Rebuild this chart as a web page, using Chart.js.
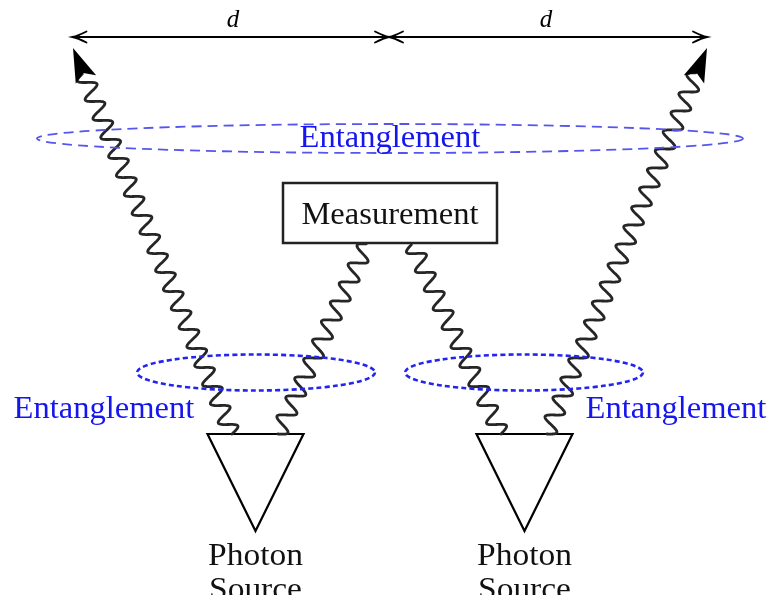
<!DOCTYPE html>
<html><head><meta charset="utf-8">
<script src="https://cdn.jsdelivr.net/npm/chart.js@4/dist/chart.umd.min.js"></script>
<style>html,body{margin:0;padding:0;background:#fff;}canvas{display:block}</style>
</head><body>
<canvas id="c" width="773" height="604"></canvas>
<script>
// ---- diagram data (diagram units: x to the right, y downward) ----
const distanceArrowX = [72.5, 389, 707];
const distanceArrowY = [37];
const distanceLabels = ['d', 'd'];
const distanceLabelX = [233, 546];
const sourceX = [255.5, 524.5];
const sourceTopY = [434];
const sourceApexY = [531];
const sourceHalfWidth = [48];
const sourceLabelLines = ['Photon', 'Source'];
const measureBoxX = [283, 497];
const measureBoxY = [183, 243];
const measureLabel = 'Measurement';
const photonStartX = [232, 278, 501, 547];
const photonStartY = [434, 434, 434, 434];
const photonEndX = [73, 367, 412, 707];
const photonEndY = [48, 244, 244, 48];
const photonHasArrow = [true, false, false, true];
const ellipseCX = [390, 256, 524];
const ellipseCY = [138.5, 372.5, 372.5];
const ellipseRX = [353, 119, 119];
const ellipseRY = [14.5, 18, 18];
const ellipseKind = ['wide', 'tight', 'tight'];
const entLabels = ['Entanglement', 'Entanglement', 'Entanglement'];
const entLabelX = [390, 104, 676];
const entLabelY = [147, 418, 418];

// ---- datasets built from the arrays ----
const black = '#000';
const datasets = [];
sourceX.forEach(sx => {
  datasets.push({
    data: [
      {x: sx - sourceHalfWidth[0], y: sourceTopY[0]},
      {x: sx + sourceHalfWidth[0], y: sourceTopY[0]},
      {x: sx, y: sourceApexY[0]},
      {x: sx - sourceHalfWidth[0], y: sourceTopY[0]},
      {x: sx + sourceHalfWidth[0], y: sourceTopY[0]}
    ],
    borderColor: black, borderWidth: 2.2, borderJoinStyle: 'miter'
  });
});
datasets.push({
  data: [
    {x: measureBoxX[0], y: measureBoxY[0]}, {x: measureBoxX[1], y: measureBoxY[0]},
    {x: measureBoxX[1], y: measureBoxY[1]}, {x: measureBoxX[0], y: measureBoxY[1]},
    {x: measureBoxX[0], y: measureBoxY[0]}, {x: measureBoxX[1], y: measureBoxY[0]}
  ],
  borderColor: '#222', borderWidth: 2.5, borderJoinStyle: 'miter'
});
for (let i = 0; i < distanceArrowX.length - 1; i++) {
  datasets.push({
    data: [{x: distanceArrowX[i], y: distanceArrowY[0]}, {x: distanceArrowX[i + 1], y: distanceArrowY[0]}],
    borderColor: black, borderWidth: 2
  });
}
datasets.forEach(d => { d.showLine = true; d.pointRadius = 0; d.tension = 0; d.fill = false; });

function txt(ctx, s, x, y, font, color, sx) {
  ctx.save();
  ctx.font = font; ctx.fillStyle = color;
  ctx.textAlign = 'center'; ctx.textBaseline = 'alphabetic';
  ctx.translate(x, y); ctx.scale(sx, 1);
  ctx.fillText(s, 0, 0);
  ctx.restore();
}

const decor = {
  id: 'decor',
  afterDatasetsDraw(chart) {
    const ctx = chart.ctx;
    const X = v => chart.scales.x.getPixelForValue(v);
    const Y = v => chart.scales.y.getPixelForValue(v);
    const serif = '"Liberation Serif", "Times New Roman", serif';

    // distance arrowheads
    ctx.save();
    ctx.strokeStyle = black; ctx.lineWidth = 1.8; ctx.lineCap = 'round';
    for (let i = 0; i < distanceArrowX.length - 1; i++) {
      const a = X(distanceArrowX[i]), b = X(distanceArrowX[i + 1]), y = Y(distanceArrowY[0]);
      [[a, -1], [b, 1]].forEach(([tx, dir]) => {
        const len = 14, hw = 5.5;
        ctx.beginPath();
        ctx.moveTo(tx - dir * len, y - hw);
        ctx.quadraticCurveTo(tx - dir * 5, y - 1, tx, y);
        ctx.quadraticCurveTo(tx - dir * 5, y + 1, tx - dir * len, y + hw);
        ctx.stroke();
        ctx.beginPath();
        ctx.moveTo(tx, y);
        ctx.lineTo(tx - dir * 7, y - 2.2);
        ctx.lineTo(tx - dir * 7, y + 2.2);
        ctx.closePath(); ctx.fillStyle = black; ctx.fill();
      });
    }
    ctx.restore();
    distanceLabels.forEach((s, i) => txt(ctx, s, X(distanceLabelX[i]), Y(27), 'italic 25px ' + serif, black, 1));

    // photon wave lines
    ctx.save();
    ctx.strokeStyle = '#262626'; ctx.lineWidth = 2.8; ctx.lineJoin = 'round'; ctx.lineCap = 'round';
    photonStartX.forEach((_, i) => {
      const x0 = X(photonStartX[i]), y0 = Y(photonStartY[i]);
      const xt = X(photonEndX[i]), yt = Y(photonEndY[i]);
      const dx = xt - x0, dy = yt - y0, Lt = Math.hypot(dx, dy);
      const ux = dx / Lt, uy = dy / Lt, nx = -uy, ny = ux;
      const arrowLen = 34, notch = 27, hw = 11;
      const L = photonHasArrow[i] ? Lt - notch : Lt;
      const lambda = L / Math.round(L / 21);
      const amp = 8.5;
      ctx.beginPath();
      for (let t = 0; t <= L + 0.01; t += 0.5) {
        const s = amp * Math.sin(2 * Math.PI * t / lambda);
        const px = x0 + ux * t + nx * s, py = y0 + uy * t + ny * s;
        if (t === 0) ctx.moveTo(px, py); else ctx.lineTo(px, py);
      }
      ctx.stroke();
      if (photonHasArrow[i]) {
        ctx.beginPath();
        ctx.moveTo(xt, yt);
        ctx.lineTo(xt - ux * arrowLen + nx * hw, yt - uy * arrowLen + ny * hw);
        ctx.lineTo(xt - ux * notch, yt - uy * notch);
        ctx.lineTo(xt - ux * arrowLen - nx * hw, yt - uy * arrowLen - ny * hw);
        ctx.closePath();
        ctx.fillStyle = black; ctx.fill();
      }
    });
    ctx.restore();

    // entanglement ellipses
    ellipseCX.forEach((_, i) => {
      ctx.save();
      ctx.beginPath();
      const cx = X(ellipseCX[i]), cy = Y(ellipseCY[i]);
      const rx = X(ellipseCX[i] + ellipseRX[i]) - cx, ry = Y(ellipseCY[i] + ellipseRY[i]) - cy;
      ctx.ellipse(cx, cy, Math.abs(rx), Math.abs(ry), 0, 0, Math.PI * 2);
      if (ellipseKind[i] === 'wide') {
        ctx.strokeStyle = '#5656ee'; ctx.lineWidth = 1.8; ctx.setLineDash([10, 6]);
      } else {
        ctx.strokeStyle = '#2424f0'; ctx.lineWidth = 2.6; ctx.setLineDash([5, 3.2]);
      }
      ctx.stroke();
      ctx.restore();
    });

    // labels
    entLabels.forEach((s, i) => txt(ctx, s, X(entLabelX[i]), Y(entLabelY[i]), '31px ' + serif, '#1515f0', 1.05));
    txt(ctx, measureLabel, X((measureBoxX[0] + measureBoxX[1]) / 2), Y(224), '31px ' + serif, '#111', 1.05);
    ctx.save();
    ctx.beginPath(); ctx.rect(0, 0, chart.width, Y(595)); ctx.clip();
    sourceX.forEach(sx => {
      txt(ctx, sourceLabelLines[0], X(sx), Y(565), '31px ' + serif, '#111', 1.08);
      txt(ctx, sourceLabelLines[1], X(sx), Y(599), '31px ' + serif, '#111', 1.08);
    });
    ctx.restore();
  }
};

new Chart(document.getElementById('c'), {
  type: 'scatter',
  data: { datasets },
  options: {
    responsive: false, maintainAspectRatio: false, animation: false,
    layout: { padding: 0 },
    plugins: { legend: { display: false }, tooltip: { enabled: false } },
    scales: {
      x: { type: 'linear', min: 0, max: 773, display: false },
      y: { type: 'linear', min: 0, max: 604, reverse: true, display: false }
    },
    elements: { line: { borderCapStyle: 'butt' } }
  },
  plugins: [decor]
});
</script>
</body></html>
